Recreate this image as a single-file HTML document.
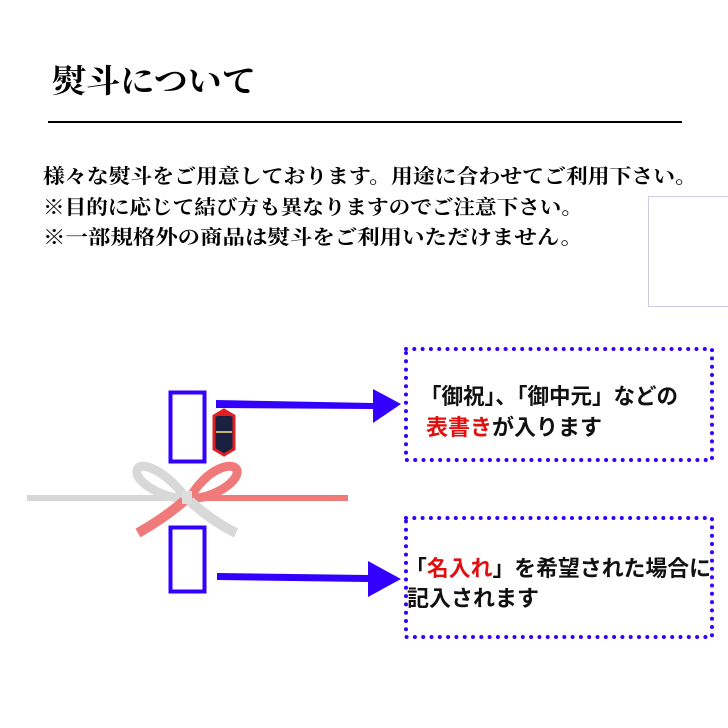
<!DOCTYPE html>
<html><head><meta charset="utf-8"><style>
html,body{margin:0;padding:0;background:#fff;}
svg{display:block;}
text{font-family:"Liberation Serif","Noto Serif CJK SC","Noto Sans CJK JP",serif;}
.s{font-family:"Liberation Sans","Noto Sans CJK JP",sans-serif;font-weight:bold;}
</style></head><body>
<svg width="728" height="728" viewBox="0 0 728 728" xmlns="http://www.w3.org/2000/svg">
<rect width="728" height="728" fill="#fff"/>
<text x="52" y="92" font-size="32" font-weight="bold" textLength="204" lengthAdjust="spacingAndGlyphs" fill="#000">熨斗について</text>
<line x1="48" y1="122" x2="682" y2="122" stroke="#000" stroke-width="2"/>
<g font-size="20" fill="#000" font-weight="bold">
<text x="43" y="183" textLength="654" lengthAdjust="spacingAndGlyphs">様々な熨斗をご用意しております。用途に合わせてご利用下さい。</text>
<text x="43" y="214" textLength="540" lengthAdjust="spacingAndGlyphs">※目的に応じて結び方も異なりますのでご注意下さい。</text>
<text x="43" y="244" textLength="540" lengthAdjust="spacingAndGlyphs">※一部規格外の商品は熨斗をご利用いただけません。</text>
</g>
<rect x="648.5" y="196.5" width="90" height="110" fill="none" stroke="#99c" stroke-width="1" stroke-dasharray="1 1"/>
<!-- cord -->
<line x1="27" y1="498" x2="190" y2="498" stroke="#d6d6d6" stroke-width="6"/>
<line x1="190" y1="498" x2="348" y2="498" stroke="#f07a7a" stroke-width="6"/>
<path d="M186 498 C165 470 140 460 137 470 C134 482 165 500 186 498" fill="none" stroke="#d8d8d8" stroke-width="9"/>
<path d="M190 498 C205 470 232 460 237 470 C240 482 210 500 190 498" fill="none" stroke="#f07a7a" stroke-width="9"/>
<path d="M184 501 C168 515 152 525 138 533" fill="none" stroke="#f07a7a" stroke-width="10"/>
<path d="M190 501 C205 515 220 525 236 533" fill="none" stroke="#d8d8d8" stroke-width="10"/>
<rect x="182" y="491" width="10" height="13" fill="#ddd"/>
<!-- noshi -->
<path d="M224 410 L234 416 L234 449 L224 455 L214 449 L214 416 Z" fill="#1a2040" stroke="#e02020" stroke-width="3"/>
<path d="M224 410 L234 416 L214 416 Z" fill="#e02020"/>
<line x1="216" y1="432" x2="232" y2="432" stroke="#c8b070" stroke-width="2"/>
<!-- rects -->
<rect x="170.5" y="392.5" width="34" height="69" fill="none" stroke="#3300ff" stroke-width="4"/>
<rect x="170.5" y="527.5" width="34" height="64" fill="none" stroke="#3300ff" stroke-width="4"/>
<!-- arrows -->
<polygon points="216,400 373,403 373,389 401,404 373,423 373,409 216,408" fill="#3300ff"/>
<polygon points="217,573 368,575 368,561 401,579 368,597 368,582 217,580" fill="#3300ff"/>
<!-- dotted boxes -->
<rect x="406" y="349" width="306" height="111" fill="none" stroke="#3300ff" stroke-width="4" stroke-linecap="round" stroke-dasharray="0 8.3"/>
<rect x="406" y="518" width="306" height="119" fill="none" stroke="#3300ff" stroke-width="4" stroke-linecap="round" stroke-dasharray="0 8.3"/>
<g class="s" font-size="22">
<text x="420" y="404" class="s" textLength="258" lengthAdjust="spacingAndGlyphs" fill="#111">「御祝」、「御中元」などの</text>
<text x="426" y="435" class="s" fill="#e01010">表書き<tspan fill="#111">が入ります</tspan></text>
<text x="405" y="576" class="s" textLength="306" lengthAdjust="spacingAndGlyphs" fill="#111">「<tspan fill="#e01010">名入れ</tspan>」を希望された場合に</text>
<text x="407" y="606" class="s" fill="#111">記入されます</text>
</g>
</svg>
</body></html>
